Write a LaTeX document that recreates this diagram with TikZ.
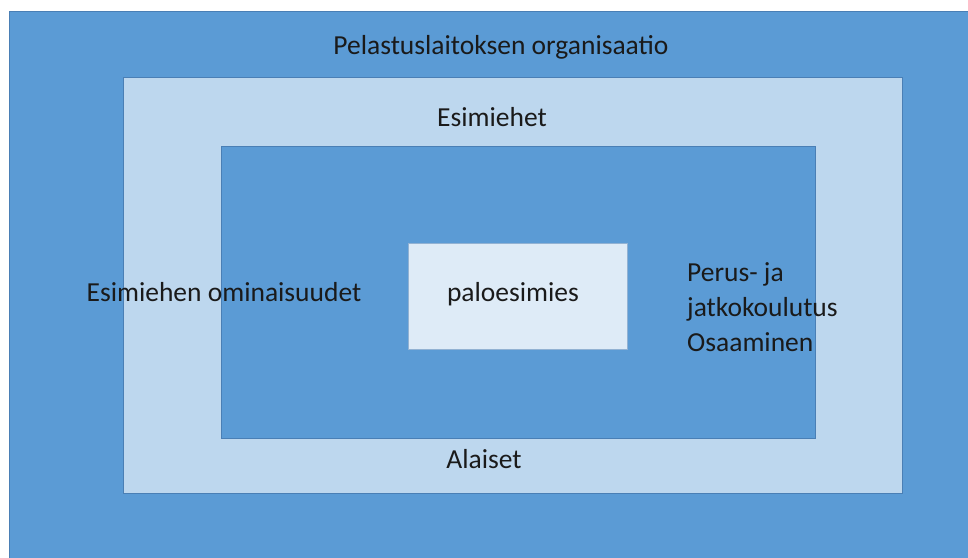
\documentclass[tikz,border=0pt]{standalone}
\usepackage{fontspec}
\setmainfont{Carlito}
\definecolor{outerblue}{HTML}{5B9BD5}
\definecolor{lightblue}{HTML}{BDD7EE}
\definecolor{paleblue}{HTML}{DEEBF7}
\definecolor{edgeblue}{HTML}{4A7FB5}
\definecolor{txt}{HTML}{1A1A1A}
\begin{document}
\begin{tikzpicture}[x=1pt,y=-1pt,
  boxstyle/.style={draw=edgeblue, line width=0.8pt},
  lbl/.style={text=txt, font=\fontsize{27.5}{35}\selectfont, inner sep=0pt}]
\useasboundingbox (0,0) rectangle (968,557);
\fill[white] (0,0) rectangle (968,557);
\clip (0,0) rectangle (968,557);
\draw[boxstyle, fill=outerblue] (9,11) rectangle (975,565);
\draw[boxstyle, fill=lightblue] (123,77) rectangle (902,493);
\draw[boxstyle, fill=outerblue] (221,146) rectangle (815,438);
\draw[boxstyle, draw=edgeblue!60, fill=paleblue] (408,243) rectangle (627,349);
\node[lbl] (org) at (501,47) {Pelastuslaitoksen organisaatio};
\node[lbl] (esi) at (492,117) {Esimiehet};
\node[lbl] (ala) at (484,459) {Alaiset};
\node[lbl] (palo) at (513,294) {paloesimies};
\node[lbl] (omin) at (224,292) {Esimiehen ominaisuudet};
\node[lbl, align=left, anchor=west] (perus) at (687,307) {Perus- ja\\jatkokoulutus\\Osaaminen};
\end{tikzpicture}
\end{document}
